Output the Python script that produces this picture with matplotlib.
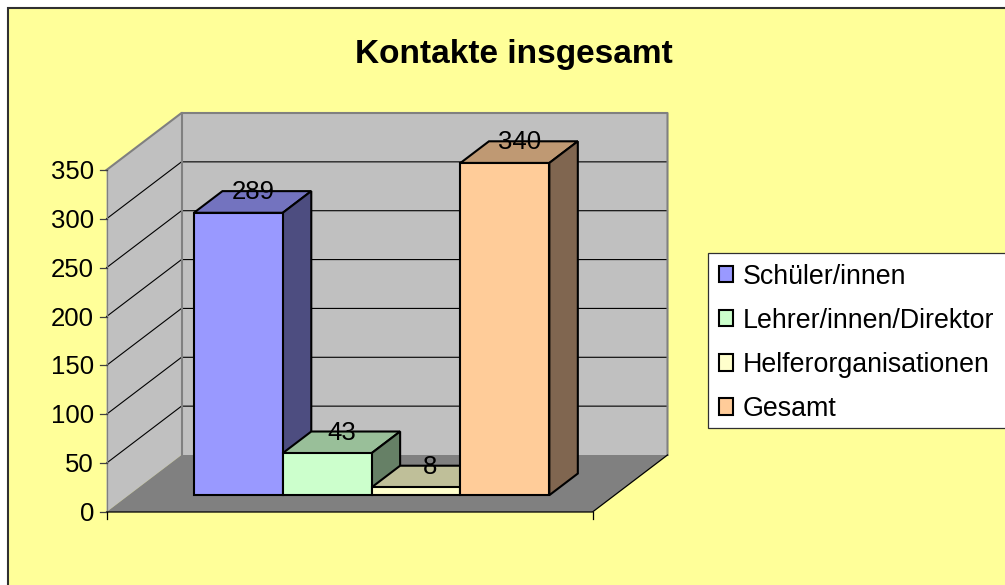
import matplotlib
matplotlib.use("Agg")
import matplotlib.pyplot as plt
from matplotlib.patches import Polygon, Rectangle, Patch

plt.rcParams['font.family'] = ['Liberation Sans', 'DejaVu Sans']

title = "Kontakte insgesamt"
series = ["Schüler/innen", "Lehrer/innen/Direktor", "Helferorganisationen", "Gesamt"]
values = [289, 43, 8, 340]
y_ticks = [0, 50, 100, 150, 200, 250, 300, 350]

bg = "#FFFF99"
wall = "#C0C0C0"
floor = "#808080"
front_colors = ["#9999FF", "#CCFFCC", "#FFFFCC", "#FFCC99"]
top_colors = ["#7373BF", "#99BF99", "#BFBF99", "#BF9973"]
side_colors = ["#4D4D80", "#668066", "#808066", "#806650"]

# oblique projection, in pixel units of the figure
X0, X1, Y0 = 106.5, 592.5, 512.0
PX_PER_UNIT = 342.0 / 350
DEPTH_X, DEPTH_Y = 75.0, -57.0
VMAX = y_ticks[-1]
GAP = 0.735              # gap width, in bar widths
BAR_D0, BAR_D1 = 0.295, 0.675


def P(u, v, d=0.0):
    """u: 0..1 along the category axis, v: data value, d: 0..1 into the depth."""
    return (X0 + (X1 - X0) * u + DEPTH_X * d, Y0 - v * PX_PER_UNIT + DEPTH_Y * d)


fig = plt.figure(figsize=(10.05, 5.85), dpi=100, facecolor="white")
ax = fig.add_axes([0, 0, 1, 1])
ax.set_xlim(0, 1005)
ax.set_ylim(585, 0)
ax.axis("off")

ax.add_patch(Rectangle((7.5, 7.5), 1010, 590, fc=bg, ec="#303030", lw=1.5, zorder=0))
ax.text(513.5, 62.5, title, ha="center", va="baseline", fontsize=24, fontweight="bold", color="black")

# walls and floor
ax.add_patch(Polygon([P(0, 0), P(0, VMAX), P(0, VMAX, 1), P(0, 0, 1)], fc=wall, ec="none", zorder=1))
ax.add_patch(Polygon([P(0, 0, 1), P(0, VMAX, 1), P(1, VMAX, 1), P(1, 0, 1)], fc=wall, ec="none", zorder=1))
for t in y_ticks[1:-1]:
    ax.plot(*zip(P(0, t), P(0, t, 1), P(1, t, 1)), color="black", lw=0.8, zorder=2)
ax.add_patch(Polygon([P(0, 0), P(1, 0), P(1, 0, 1), P(0, 0, 1)], fc=floor, ec="none", zorder=3))
ax.plot(*zip(P(0, VMAX), P(0, VMAX, 1), P(1, VMAX, 1), P(1, 0, 1)), color="#808080", lw=1.5, zorder=3)
ax.plot(*zip(P(0, VMAX, 1), P(0, 0, 1)), color="#808080", lw=1.5, zorder=3)

# axes and ticks
ax.plot(*zip(P(0, VMAX), P(0, 0)), color="#808080", lw=0.9, zorder=4)
ax.plot(*zip(P(0, 0), P(1, 0), P(1, 0, 1)), color="black", lw=0.9, zorder=4)
for t in y_ticks:
    x, y = P(0, t)
    ax.plot([x - 7, x], [y, y], color="#404040", lw=0.9, zorder=4)
    ax.text(x - 12.5, y + 2, str(t), ha="right", va="center", fontsize=18.5, color="black")
for u in (0, 1):
    x, y = P(u, 0)
    ax.plot([x, x], [y, y + 7], color="black", lw=0.9, zorder=4)

# bars
bar_w = 1 / (len(values) + 2 * GAP)
for i, v in enumerate(values):
    u0 = (GAP + i) * bar_w
    u1 = u0 + bar_w
    z = 5 + i
    kw = dict(ec="black", lw=1.5, joinstyle="miter", zorder=z)
    ax.add_patch(Polygon([P(u0, v, BAR_D0), P(u1, v, BAR_D0), P(u1, v, BAR_D1), P(u0, v, BAR_D1)], fc=top_colors[i], **kw))
    ax.add_patch(Polygon([P(u1, 0, BAR_D0), P(u1, v, BAR_D0), P(u1, v, BAR_D1), P(u1, 0, BAR_D1)], fc=side_colors[i], **kw))
    ax.add_patch(Polygon([P(u0, 0, BAR_D0), P(u1, 0, BAR_D0), P(u1, v, BAR_D0), P(u0, v, BAR_D0)], fc=front_colors[i], **kw))
for i, v in enumerate(values):
    u = (GAP + i + 0.5) * bar_w
    x, y = P(u, v, BAR_D1)
    ax.text(x - 14, y + 1, str(v), ha="center", va="center", fontsize=18.5, color="black", zorder=20)

# legend: the frame runs past the right edge of the picture
ax.add_patch(Rectangle((707.5, 252.5), 320, 175.5, fc="white", ec="#303030", lw=0.9, zorder=24))
handles = [Patch(fc=c, ec="black", lw=1.5) for c in front_colors]
leg = ax.legend(handles, series, loc="upper left", bbox_to_anchor=(707.5 / 1005, 1 - 252.5 / 585),
                bbox_transform=fig.transFigure, fontsize=19.3, frameon=False,
                borderaxespad=0, borderpad=0.42, labelspacing=0.675,
                handlelength=0.52, handleheight=0.55, handletextpad=0.37)
leg.set_zorder(25)

fig.savefig("out.png", dpi=100, facecolor=fig.get_facecolor())
